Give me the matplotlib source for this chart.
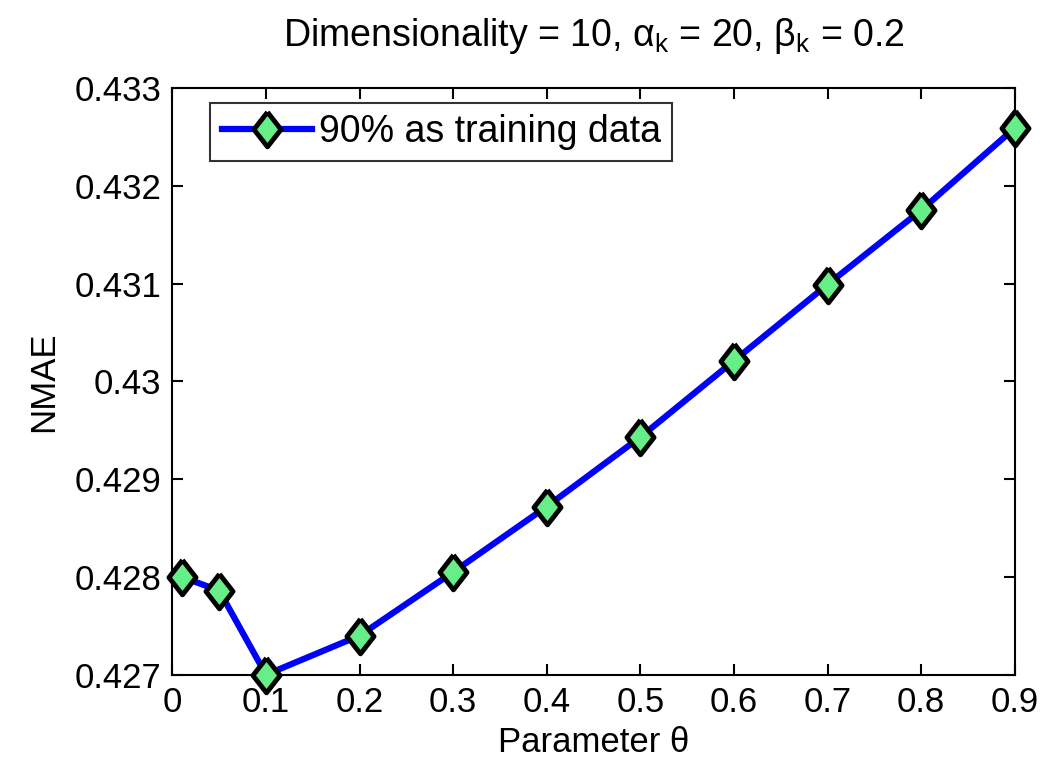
import matplotlib
matplotlib.use("Agg")
import matplotlib.pyplot as plt

plt.rcParams['font.family'] = ['Liberation Sans', 'DejaVu Sans']
plt.rcParams['mathtext.fontset'] = 'custom'
plt.rcParams['mathtext.rm'] = 'Liberation Sans'
plt.rcParams['mathtext.it'] = 'Liberation Sans:italic'
plt.rcParams['mathtext.sf'] = 'Liberation Sans'

theta = [0.01, 0.05, 0.1, 0.2, 0.3, 0.4, 0.5, 0.6, 0.7, 0.8, 0.9]
nmae = [0.42800, 0.42786, 0.42700, 0.42740, 0.42805, 0.42872, 0.42943,
        0.43021, 0.43099, 0.43175, 0.43259]
xticks = [0, 0.1, 0.2, 0.3, 0.4, 0.5, 0.6, 0.7, 0.8, 0.9]
yticks = [0.427, 0.428, 0.429, 0.43, 0.431, 0.432, 0.433]
ytick_labels = ['0.427', '0.428', '0.429', '0.43', '0.431', '0.432', '0.433']

# diamond a bit taller than wide, like the matlab one
diamond = [(0, 1), (0.78, 0), (0, -1), (-0.78, 0), (0, 1)]

fig = plt.figure(figsize=(10.45, 7.65), dpi=100)
ax = fig.add_axes([0.165, 0.118, 0.806, 0.767])

ax.plot(theta, nmae, color='#0000ff', lw=4.5, marker=diamond, markersize=25,
        markerfacecolor='#66ee88', markeredgecolor='black', markeredgewidth=3.5,
        label='90% as training data', clip_on=False, zorder=5)

ax.set_xlim(0, 0.9)
ax.set_ylim(0.427, 0.433)
ax.set_xticks(xticks)
ax.set_xticklabels([('%g' % t) for t in xticks])
ax.set_yticks(yticks)
ax.set_yticklabels(ytick_labels)
ax.tick_params(direction='in', top=True, right=True, length=8, width=1.5,
               labelsize=25, pad=8)
for s in ax.spines.values():
    s.set_linewidth(1.5)

ax.set_xlabel('Parameter \u03b8', fontsize=25, labelpad=5)
ax.set_ylabel('NMAE', fontsize=25, labelpad=10)
ax.set_title('Dimensionality = 10, $\\mathrm{\\alpha}_{\\mathrm{k}}$ = 20, $\\mathrm{\\beta}_{\\mathrm{k}}$ = 0.2',
             fontsize=27, pad=30)

leg = ax.legend(loc='upper left', fontsize=27, frameon=True, fancybox=False,
                edgecolor='black', handlelength=2.4, handletextpad=0.2,
                borderpad=0.3, borderaxespad=0, bbox_to_anchor=(0.045, 0.975))
leg.get_frame().set_linewidth(1.5)

fig.savefig('out.png', dpi=100)
